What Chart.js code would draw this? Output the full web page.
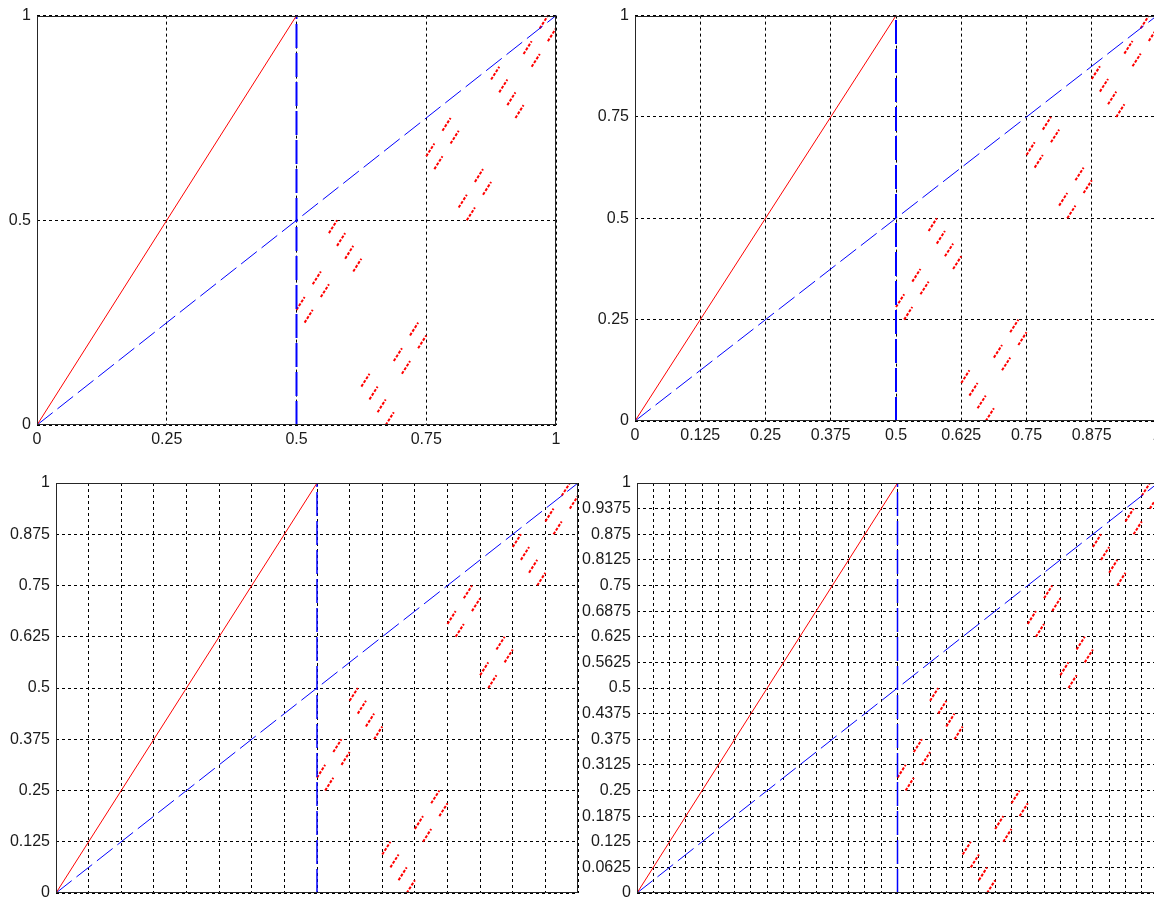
<!DOCTYPE html>
<html lang="en">
<head>
    <meta charset="UTF-8">
    <title>Map graphs</title>
    <script src="https://cdn.jsdelivr.net/npm/chart.js"></script>
    <style>
        html, body { margin: 0; padding: 0; background: #fff; overflow: hidden; width: 1154px; height: 897px; }
        canvas { position: absolute; }
    </style>
</head>
<body>
    <canvas id="plot1" width="580" height="450" style="left:0px;top:0px"></canvas>
    <canvas id="plot2" width="600" height="450" style="left:580px;top:0px"></canvas>
    <canvas id="plot3" width="600" height="460" style="left:0px;top:455px"></canvas>
    <canvas id="plot4" width="600" height="460" style="left:580px;top:455px"></canvas>

    <script>
        // lines shared by all four panels
        const redLineX = [0, 0.5];
        const redLineY = [0, 1];
        const blueDiagX = [0, 1];
        const blueDiagY = [0, 1];
        const blueVertX = [0.5, 0.5];
        const blueVertY = [0, 1];

        // red dashed pieces on [0.5, 1] (null = break)
        // each small cluster shows as two offset strands
        const fracX = [
            0.5, 0.515625, null, 0.515625, 0.53125, null,
            0.53125, 0.546875, null, 0.546875, 0.5625, null,
            0.5625, 0.578125, null, 0.578125, 0.59375, null,
            0.59375, 0.609375, null, 0.609375, 0.625, null,
            0.625, 0.640625, null, 0.640625, 0.65625, null,
            0.65625, 0.671875, null, 0.671875, 0.6875, null,
            0.6875, 0.703125, null, 0.703125, 0.71875, null,
            0.71875, 0.734375, null, 0.734375, 0.75, null,
            0.75, 0.765625, null, 0.765625, 0.78125, null,
            0.78125, 0.796875, null, 0.796875, 0.8125, null,
            0.8125, 0.828125, null, 0.828125, 0.84375, null,
            0.84375, 0.859375, null, 0.859375, 0.875, null,
            0.875, 0.890625, null, 0.890625, 0.90625, null,
            0.90625, 0.921875, null, 0.921875, 0.9375, null,
            0.9375, 0.953125, null, 0.953125, 0.96875, null,
            0.96875, 0.984375, null, 0.984375, 1
        ];
        const fracY = [
            0.28125, 0.3125, null, 0.25, 0.28125, null,
            0.34375, 0.375, null, 0.3125, 0.34375, null,
            0.46875, 0.5, null, 0.4375, 0.46875, null,
            0.40625, 0.4375, null, 0.375, 0.40625, null,
            0.09375, 0.125, null, 0.0625, 0.09375, null,
            0.03125, 0.0625, null, 0, 0.03125, null,
            0.15625, 0.1875, null, 0.125, 0.15625, null,
            0.21875, 0.25, null, 0.1875, 0.21875, null,
            0.65625, 0.6875, null, 0.625, 0.65625, null,
            0.71875, 0.75, null, 0.6875, 0.71875, null,
            0.53125, 0.5625, null, 0.5, 0.53125, null,
            0.59375, 0.625, null, 0.5625, 0.59375, null,
            0.84375, 0.875, null, 0.8125, 0.84375, null,
            0.78125, 0.8125, null, 0.75, 0.78125, null,
            0.90625, 0.9375, null, 0.875, 0.90625, null,
            0.96875, 1, null, 0.9375, 0.96875
        ];

        // tick values and labels for each panel
        const ticks1X = [0, 0.25, 0.5, 0.75, 1];
        const labels1X = ['0', '0.25', '0.5', '0.75', '1'];
        const ticks1Y = [0, 0.5, 1];
        const labels1Y = ['0', '0.5', '1'];

        const ticks2X = [0, 0.125, 0.25, 0.375, 0.5, 0.625, 0.75, 0.875, 1];
        const labels2X = ['0', '0.125', '0.25', '0.375', '0.5', '0.625', '0.75', '0.875', '1'];
        const ticks2Y = [0, 0.25, 0.5, 0.75, 1];
        const labels2Y = ['0', '0.25', '0.5', '0.75', '1'];

        const ticks3X = [0, 0.0625, 0.125, 0.1875, 0.25, 0.3125, 0.375, 0.4375, 0.5,
                         0.5625, 0.625, 0.6875, 0.75, 0.8125, 0.875, 0.9375, 1];
        const ticks3Y = [0, 0.125, 0.25, 0.375, 0.5, 0.625, 0.75, 0.875, 1];
        const labels3Y = ['0', '0.125', '0.25', '0.375', '0.5', '0.625', '0.75', '0.875', '1'];

        const ticks4X = [0, 0.03125, 0.0625, 0.09375, 0.125, 0.15625, 0.1875, 0.21875, 0.25, 0.28125, 0.3125,
                         0.34375, 0.375, 0.40625, 0.4375, 0.46875, 0.5, 0.53125, 0.5625, 0.59375, 0.625, 0.65625,
                         0.6875, 0.71875, 0.75, 0.78125, 0.8125, 0.84375, 0.875, 0.90625, 0.9375, 0.96875, 1];
        const ticks4Y = [0, 0.0625, 0.125, 0.1875, 0.25, 0.3125, 0.375, 0.4375, 0.5,
                         0.5625, 0.625, 0.6875, 0.75, 0.8125, 0.875, 0.9375, 1];
        const labels4Y = ['0', '0.0625', '0.125', '0.1875', '0.25', '0.3125', '0.375', '0.4375', '0.5',
                          '0.5625', '0.625', '0.6875', '0.75', '0.8125', '0.875', '0.9375', '1'];

        Chart.defaults.font.family = '"Liberation Sans", Arial, sans-serif';
        Chart.defaults.font.size = 16;
        Chart.defaults.color = '#1a1a1a';

        function zip(xs, ys) {
            return xs.map((x, i) => ({ x: x, y: ys[i] }));
        }

        // matlab style box round the axes
        const boxPlugin = {
            id: 'box',
            afterDraw(chart) {
                const a = chart.chartArea;
                const ctx = chart.ctx;
                ctx.save();
                ctx.strokeStyle = '#262626';
                ctx.lineWidth = 1;
                ctx.strokeRect(Math.round(a.left) + 0.5, Math.round(a.top) + 0.5,
                               Math.round(a.right - a.left) - 1, Math.round(a.bottom - a.top) - 1);
                ctx.restore();
            }
        };

        function axis(tickVals, tickLabels, size, horizontal) {
            return {
                type: 'linear',
                min: 0,
                max: 1,
                afterBuildTicks: (scale) => { scale.ticks = tickVals.map(v => ({ value: v })); },
                afterFit: (scale) => { if (horizontal) scale.height = size; else scale.width = size; },
                grid: { color: '#000', lineWidth: 1, drawTicks: false },
                border: { display: false, dash: [3, 3] },
                ticks: {
                    display: tickLabels !== null,
                    autoSkip: false,
                    maxRotation: 0,
                    padding: horizontal ? 5 : 6,
                    callback: (v, i) => tickLabels ? tickLabels[i] : ''
                }
            };
        }

        function makePlot(id, xt, xl, yt, yl, yW, xH, pad, vertWidth) {
            const line = (xs, ys, color, width, dash) => ({
                data: zip(xs, ys),
                showLine: true,
                borderColor: color,
                borderWidth: width,
                borderDash: dash,
                pointRadius: 0,
                spanGaps: false,
                fill: false
            });
            new Chart(document.getElementById(id), {
                type: 'scatter',
                data: {
                    datasets: [
                        line(redLineX, redLineY, '#ff0000', 1, []),
                        line(blueDiagX, blueDiagY, '#0000ff', 1, [20, 6]),
                        line(blueVertX, blueVertY, '#0000ff', vertWidth, [24, 5]),
                        line(fracX, fracY, '#ff0000', 2, [3, 1.5])
                    ]
                },
                options: {
                    responsive: false,
                    animation: false,
                    layout: { padding: pad },
                    plugins: { legend: { display: false }, tooltip: { enabled: false } },
                    scales: {
                        x: axis(xt, xl, xH, true),
                        y: axis(yt, yl, yW, false)
                    }
                },
                plugins: [boxPlugin]
            });
        }

        makePlot('plot1', ticks1X, labels1X, ticks1Y, labels1Y, 37, 25, { left: 0, right: 24, top: 15, bottom: 0 }, 2);
        makePlot('plot2', ticks2X, labels2X, ticks2Y, labels2Y, 55, 25, { left: 0, right: 23, top: 12, bottom: 4 }, 2);
        makePlot('plot3', ticks3X, null, ticks3Y, labels3Y, 56, 22, { left: 0, right: 22, top: 28, bottom: 0 }, 1.5);
        makePlot('plot4', ticks4X, null, ticks4Y, labels4Y, 57, 22, { left: 0, right: 22, top: 28, bottom: 0 }, 1.5);
    </script>
</body>
</html>
